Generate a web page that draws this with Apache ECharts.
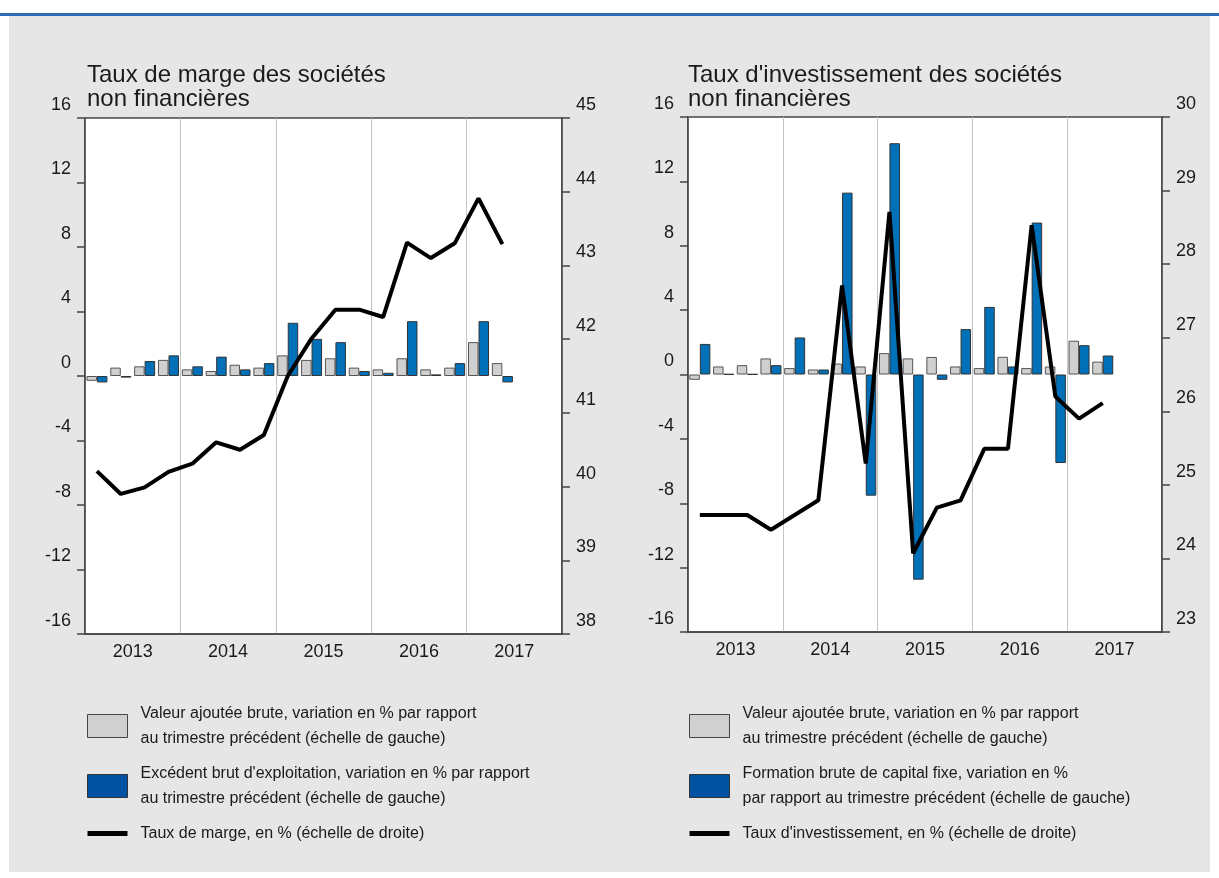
<!DOCTYPE html>
<html lang="fr">
<head>
<meta charset="utf-8">
<title>Taux de marge et taux d'investissement des sociétés non financières</title>
<script src="https://cdn.jsdelivr.net/npm/echarts@6/dist/echarts.min.js"></script>
<style>
  html, body { margin: 0; padding: 0; background: #fff; }
  #chart { width: 1219px; height: 878px; }
</style>
</head>
<body>
<div id="chart"></div>
<script>
// trimestres (axe des données) et années (axe affiché)
var quarters = ['2013T1', '2013T2', '2013T3', '2013T4', '2014T1', '2014T2', '2014T3', '2014T4',
                '2015T1', '2015T2', '2015T3', '2015T4', '2016T1', '2016T2', '2016T3', '2016T4',
                '2017T1', '2017T2', '2017T3', '2017T4'];
var years = ['2013', '2014', '2015', '2016', '2017'];

// graphique de gauche : taux de marge
var vabMarge = [-0.3, 0.52, 0.6, 1.0, 0.41, 0.31, 0.7, 0.52, 1.28, 1.0, 1.1, 0.52,
                0.41, 1.1, 0.41, 0.52, 2.1, 0.8];
var ebe = [-0.4, -0.1, 0.93, 1.28, 0.6, 1.2, 0.41, 0.8, 3.3, 2.3, 2.1, 0.31,
           0.2, 3.4, 0.1, 0.8, 3.4, -0.4];
var tauxMarge = [40.21, 39.9, 39.99, 40.2, 40.31, 40.6, 40.5, 40.7, 41.5, 42.01, 42.4, 42.4,
                 42.3, 43.31, 43.1, 43.3, 43.91, 43.29];

// graphique de droite : taux d'investissement
var vabInvest = [-0.33, 0.5, 0.58, 1.0, 0.4, 0.31, 0.68, 0.5, 1.33, 1.0, 1.09, 0.5,
                 0.4, 1.1, 0.4, 0.5, 2.1, 0.8];
var fbcf = [1.9, 0.02, 0.02, 0.58, 2.3, 0.31, 11.3, -7.53, 14.37, -12.75, -0.33, 2.82,
            4.2, 0.5, 9.44, -5.5, 1.82, 1.18];
var tauxInvest = [24.59, 24.59, 24.59, 24.39, 24.59, 24.79, 27.71, 25.29, 28.71, 24.07, 24.69, 24.79,
                  25.49, 25.49, 28.53, 26.2, 25.9, 26.11];

var nomVab = 'Valeur ajoutée brute, variation en % par rapport\nau trimestre précédent (échelle de gauche)';
var nomEbe = "Excédent brut d'exploitation, variation en % par rapport\nau trimestre précédent (échelle de gauche)";
var nomMarge = 'Taux de marge, en % (échelle de droite)';
var nomFbcf = 'Formation brute de capital fixe, variation en %\npar rapport au trimestre précédent (échelle de gauche)';
var nomInvest = "Taux d'investissement, en % (échelle de droite)";

var police = '"Liberation Sans", Arial, sans-serif';
var noir = '#1a1a1a';
var trait = '#444';
var iconeTrait = 'path://M0,0 L40,0 L40,5 L0,5 Z';

function axeTrimestres(g) {
    return { type: 'category', gridIndex: g, data: quarters, show: false };
}

function axeAnnees(g) {
    return {
        type: 'category', gridIndex: g, data: years, position: 'bottom',
        axisLine: { lineStyle: { color: trait, width: 1.5 } },
        axisTick: { show: false },
        axisLabel: { fontSize: 18, color: noir, margin: 9, fontFamily: police },
        splitLine: { show: true, interval: 0, lineStyle: { color: '#c4c4c4', width: 1 } }
    };
}

function axeValeur(g, pos, min, max, pas) {
    return {
        type: 'value', gridIndex: g, position: pos, min: min, max: max, interval: pas,
        axisLine: { show: true, onZero: false, lineStyle: { color: trait, width: 1.5 } },
        axisTick: { show: true, inside: false, length: 8, lineStyle: { color: trait, width: 1.5 } },
        axisLabel: { fontSize: 18, color: noir, margin: 14, verticalAlign: 'bottom', lineHeight: 26, fontFamily: police },
        splitLine: { show: false }
    };
}

function barres(nom, data, xi, yi, couleur, bord) {
    return {
        name: nom, type: 'bar', xAxisIndex: xi, yAxisIndex: yi, data: data,
        barWidth: 10.5, barGap: '0%',
        itemStyle: { color: couleur, borderColor: bord, borderWidth: 1 }
    };
}

function courbe(nom, data, xi, yi) {
    return {
        name: nom, type: 'line', xAxisIndex: xi, yAxisIndex: yi, data: data,
        symbol: 'none', lineStyle: { color: '#000', width: 4 }, itemStyle: { color: '#000' }
    };
}

function legende(x, noms) {
    return {
        orient: 'vertical', left: x, top: 696, itemWidth: 40, itemHeight: 23, itemGap: 10,
        selectedMode: false, icon: 'rect',
        textStyle: { fontSize: 16, lineHeight: 25, color: noir, fontFamily: police, padding: [0, 0, 0, 8] },
        data: noms
    };
}

var chart = echarts.init(document.getElementById('chart'));

var option = {
    animation: false,
    backgroundColor: '#fff',
    textStyle: { fontFamily: police },
    graphic: [
        { type: 'rect', z: -10, silent: true, shape: { x: 9, y: 16, width: 1201, height: 856 }, style: { fill: '#e6e6e6' } },
        { type: 'rect', z: -10, silent: true, shape: { x: 0, y: 13, width: 1219, height: 3 }, style: { fill: '#2d6bb3' } }
    ],
    title: [
        { text: 'Taux de marge des sociétés\nnon financières', left: 87, top: 63, padding: 0,
          textStyle: { fontSize: 24, lineHeight: 24, fontWeight: 'normal', color: noir, fontFamily: police } },
        { text: "Taux d'investissement des sociétés\nnon financières", left: 688, top: 63, padding: 0,
          textStyle: { fontSize: 24, lineHeight: 24, fontWeight: 'normal', color: noir, fontFamily: police } }
    ],
    legend: [
        legende(82, [
            { name: nomVab, itemStyle: { color: '#d0d0d0', borderColor: '#444', borderWidth: 1 } },
            { name: nomEbe, itemStyle: { color: '#0052a3', borderColor: '#333', borderWidth: 1 } },
            { name: nomMarge, icon: iconeTrait, itemStyle: { color: '#000', borderWidth: 0 } }
        ]),
        legende(684, [
            { name: nomVab, itemStyle: { color: '#d0d0d0', borderColor: '#444', borderWidth: 1 } },
            { name: nomFbcf, itemStyle: { color: '#0052a3', borderColor: '#333', borderWidth: 1 } },
            { name: nomInvest, icon: iconeTrait, itemStyle: { color: '#000', borderWidth: 0 } }
        ])
    ],
    grid: [
        { left: 85, top: 118, width: 477, height: 516, show: true, backgroundColor: '#fff', borderColor: trait, borderWidth: 1.5 },
        { left: 688, top: 117, width: 474, height: 515, show: true, backgroundColor: '#fff', borderColor: trait, borderWidth: 1.5 }
    ],
    xAxis: [axeTrimestres(0), axeAnnees(0), axeTrimestres(1), axeAnnees(1)],
    yAxis: [
        axeValeur(0, 'left', -16, 16, 4),
        axeValeur(0, 'right', 38, 45, 1),
        axeValeur(1, 'left', -16, 16, 4),
        axeValeur(1, 'right', 23, 30, 1)
    ],
    series: [
        barres(nomVab, vabMarge, 0, 0, '#d0d0d0', '#555'),
        barres(nomEbe, ebe, 0, 0, '#0070b8', '#333'),
        courbe(nomMarge, tauxMarge, 0, 1),
        barres(nomVab, vabInvest, 2, 2, '#d0d0d0', '#555'),
        barres(nomFbcf, fbcf, 2, 2, '#0070b8', '#333'),
        courbe(nomInvest, tauxInvest, 2, 3)
    ]
};

chart.setOption(option);
</script>
</body>
</html>
